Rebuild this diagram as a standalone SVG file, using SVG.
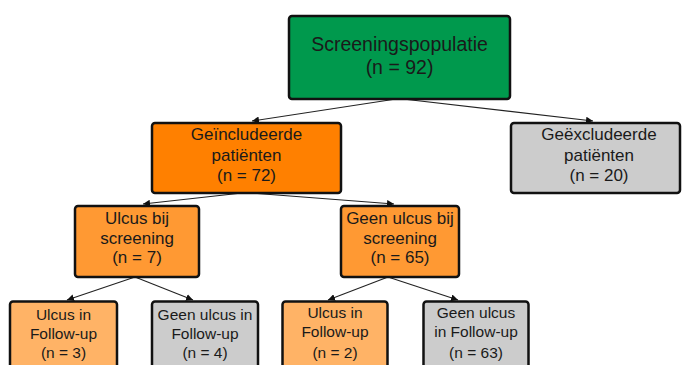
<svg xmlns="http://www.w3.org/2000/svg" width="682" height="365" viewBox="0 0 682 365">
<defs>
<marker id="ah" viewBox="0 0 10 10" refX="10" refY="5" markerWidth="7" markerHeight="7" markerUnits="userSpaceOnUse" orient="auto">
<path d="M0,0 L10,5 L0,10 z" fill="#111"/>
</marker>
<style>
.box{stroke:#111;stroke-width:2.5}
.t{font-family:"Liberation Sans",Arial,sans-serif;fill:#1a1a1a;text-anchor:middle}
.f17{font-size:17px}
.f155{font-size:15.5px}
.c{stroke:#222;stroke-width:1.1;fill:none;marker-end:url(#ah)}
</style>
</defs>
<rect width="682" height="365" fill="#fff"/>
<g id="connectors">
<line class="c" x1="396" y1="99" x2="252" y2="121"/>
<line class="c" x1="403" y1="99" x2="593" y2="121"/>
<line class="c" x1="242" y1="193" x2="143" y2="204"/>
<line class="c" x1="250" y1="193" x2="394" y2="204"/>
<line class="c" x1="135" y1="277" x2="67" y2="300"/>
<line class="c" x1="135" y1="277" x2="193" y2="300"/>
<line class="c" x1="388" y1="277" x2="328" y2="300"/>
<line class="c" x1="388" y1="277" x2="458" y2="300"/>
</g>
<g id="screeningspopulatie">
<rect class="box" x="289" y="16" width="221" height="83" rx="3" fill="#00994d"/>
<text class="t" x="399.5" y="51" font-size="19.5">Screeningspopulatie</text>
<text class="t" x="399.5" y="74" font-size="19.5">(n = 92)</text>
</g>
<g id="geincludeerde">
<rect class="box" x="152" y="123" width="189" height="70" rx="3" fill="#ff8000"/>
<text class="t f17" x="246.5" y="140">Geïncludeerde</text>
<text class="t f17" x="246.5" y="160.5">patiënten</text>
<text class="t f17" x="246.5" y="181">(n = 72)</text>
</g>
<g id="geexcludeerde">
<rect class="box" x="511" y="123" width="169" height="70" rx="3" fill="#cccccc"/>
<text class="t f17" x="599" y="140">Geëxcludeerde</text>
<text class="t f17" x="599" y="160.5">patiënten</text>
<text class="t f17" x="599" y="181">(n = 20)</text>
</g>
<g id="ulcus-bij-screening">
<rect class="box" x="75" y="206" width="124" height="71" rx="3" fill="#ff9933"/>
<text class="t f17" x="137" y="224">Ulcus bij</text>
<text class="t f17" x="137" y="243.5">screening</text>
<text class="t f17" x="137" y="263">(n = 7)</text>
</g>
<g id="geen-ulcus-bij-screening">
<rect class="box" x="341" y="206" width="118" height="71" rx="3" fill="#ff9933"/>
<text class="t f17" x="400" y="224">Geen ulcus bij</text>
<text class="t f17" x="400" y="243.5">screening</text>
<text class="t f17" x="400" y="263">(n = 65)</text>
</g>
<g id="ulcus-fu-3">
<rect class="box" x="10" y="301.5" width="107" height="75" rx="3" fill="#ffb366" stroke-width="1.5"/>
<text class="t f155" x="63.5" y="320">Ulcus in</text>
<text class="t f155" x="63.5" y="338.5">Follow-up</text>
<text class="t f155" x="63.5" y="358">(n = 3)</text>
</g>
<g id="geen-ulcus-fu-4">
<rect class="box" x="152" y="301.5" width="106" height="75" rx="3" fill="#cccccc" stroke-width="1.5"/>
<text class="t f155" x="205" y="320">Geen ulcus in</text>
<text class="t f155" x="205" y="338.5">Follow-up</text>
<text class="t f155" x="205" y="358">(n = 4)</text>
</g>
<g id="ulcus-fu-2">
<rect class="box" x="282.5" y="301.5" width="105" height="75" rx="3" fill="#ffb366" stroke-width="1.5"/>
<text class="t f155" x="335" y="318">Ulcus in</text>
<text class="t f155" x="335" y="337">Follow-up</text>
<text class="t f155" x="335" y="358">(n = 2)</text>
</g>
<g id="geen-ulcus-fu-63">
<rect class="box" x="423.5" y="301.5" width="105" height="75" rx="3" fill="#cccccc" stroke-width="1.5"/>
<text class="t f155" x="476" y="318">Geen ulcus</text>
<text class="t f155" x="476" y="337">in Follow-up</text>
<text class="t f155" x="476" y="358">(n = 63)</text>
</g>
</svg>
